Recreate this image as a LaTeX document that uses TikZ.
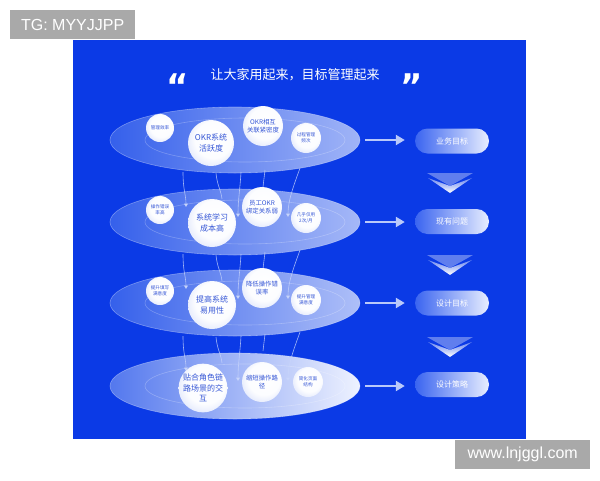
\documentclass[tikz,border=0pt]{standalone}
\usepackage{fontspec}
\setmainfont{Noto Sans CJK SC}
\newfontfamily\wmfont{Liberation Sans}
\newfontfamily\qfont{DejaVu Sans}
\usetikzlibrary{shapes.geometric,shapes.misc,arrows.meta}
\definecolor{bg}{HTML}{0B3AE6}
\definecolor{wmgray}{HTML}{A9A9A9}
\definecolor{elleft}{HTML}{3560EB}
\definecolor{elright1}{HTML}{A0B4F7}
\definecolor{elright4}{HTML}{EEF2FF}
\definecolor{circedge}{HTML}{AFC0F7}
\definecolor{ctext}{HTML}{3556D6}
\definecolor{pillleft}{HTML}{3A64F0}
\definecolor{pillright}{HTML}{E8EEFF}
\definecolor{arrowc}{HTML}{B9C9FA}
\definecolor{connc}{HTML}{C8D5FB}
\pgfdeclareradialshading{cball}{\pgfpoint{4bp}{6bp}}{color(0bp)=(white); color(20bp)=(white!96!circedge); color(50bp)=(circedge)}
\tikzset{
  rowell/.style={ellipse, minimum width=250pt, minimum height=66pt, inner sep=0pt, left color=elleft, right color=#1, draw=white, draw opacity=0.35, line width=0.6pt},
  circ/.style={circle, shading=cball, text=ctext, align=center, inner sep=0pt, minimum size=#1},
  ctxtS/.style={font=\fontsize{4.6}{5.8}\selectfont},
  ctxtM/.style={font=\fontsize{6.4}{8}\selectfont},
  ctxtL/.style={font=\fontsize{8}{10.5}\selectfont},
  pill/.style={rounded rectangle, minimum width=74pt, minimum height=25pt, inner sep=0pt, left color=pillleft, right color=pillright, text=white, font=\fontsize{8}{10}\selectfont},
  bigarrow/.style={draw=arrowc, line width=2.2pt, -{Triangle[length=9pt,width=10pt]}, shorten <=5pt, shorten >=10pt},
  conn/.style={draw=connc, draw opacity=0.8, line width=0.6pt},
  conna/.style={conn, -{Triangle[length=3.5pt,width=4pt]}},
  wm/.style={fill=wmgray, text=white, font=\wmfont\fontsize{16}{18}\selectfont, inner sep=0pt, anchor=north west},
  innerring/.style={draw=white, draw opacity=0.25, line width=0.6pt}
}
\begin{document}
\begin{tikzpicture}[x=1pt,y=-1pt]
\useasboundingbox[fill=white] (0,0) rectangle (600,480);
% panel
\fill[bg] (73,40) rectangle (526,439);
% title
\node[text=white, font=\fontsize{13}{15}\selectfont] (title) at (295,75) {让大家用起来，目标管理起来};
\node[text=white, font=\qfont\bfseries\fontsize{34}{34}\selectfont, anchor=base] (ql) at (178,98) {“};
\node[text=white, font=\qfont\bfseries\fontsize{34}{34}\selectfont, anchor=base] (qr) at (412,98) {”};
% row ellipses
\node[rowell=elright1] (e1) at (235,140) {};
\node[rowell=elright1!95!white] (e2) at (235,222) {};
\node[rowell=elright1!85!white] (e3) at (235,303) {};
\node[rowell=elright4, left color=elleft!85!white] (e4) at (235,386) {};
\foreach \r/\yy in {1/140,2/222,3/303,4/386}{
  \draw[innerring] (245,\yy) ellipse [x radius=100, y radius=22];
}
% connectors between rows
\foreach \g/\dy in {1/0,2/82,3/164}{
  \coordinate (s\g a) at (183,172+\dy);
  \coordinate (t\g a) at (186,207+\dy);
  \coordinate (s\g b) at (216,173+\dy);
  \coordinate (t\g b) at (222,199+\dy);
  \coordinate (s\g c) at (241,172+\dy);
  \coordinate (t\g c) at (238,217+\dy);
  \coordinate (s\g d) at (265,170+\dy);
  \coordinate (t\g d) at (263,187+\dy);
  \coordinate (s\g e) at (300,168+\dy);
  \coordinate (t\g e) at (288,217+\dy);
  \draw[conna] (s\g a) .. controls (183,190+\dy) and (186,195+\dy) .. (t\g a);
  \draw[conn] (s\g b) .. controls (217,185+\dy) and (221,190+\dy) .. (t\g b);
  \draw[conna] (s\g c) .. controls (240,190+\dy) and (238,200+\dy) .. (t\g c);
  \draw[conn] (s\g d) .. controls (264,178+\dy) .. (t\g d);
  \draw[conna] (s\g e) .. controls (294,185+\dy) and (288,200+\dy) .. (t\g e);
}
% row 1 circles
\node[circ=28pt, ctxtS] (c11) at (160,128) {管理效率};
\node[circ=46pt, ctxtL] (c12) at (211,143) {OKR系统\\活跃度};
\node[circ=40pt, ctxtM] (c13) at (263,126) {OKR相互\\关联紧密度};
\node[circ=30pt, ctxtS] (c14) at (306,138) {过程管理\\频次};
% row 2 circles
\node[circ=28pt, ctxtS] (c21) at (160,210) {操作错误\\率高};
\node[circ=48pt, ctxtL] (c22) at (212,223) {系统学习\\成本高};
\node[circ=40pt, ctxtM] (c23) at (262,207) {员工OKR\\绑定关系弱};
\node[circ=30pt, ctxtS] (c24) at (306,218) {几乎仅用\\2次/月};
% row 3 circles
\node[circ=28pt, ctxtS] (c31) at (160,291) {提升填写\\满意度};
\node[circ=48pt, ctxtL] (c32) at (212,305) {提高系统\\易用性};
\node[circ=40pt, ctxtM] (c33) at (262,288) {降低操作错\\误率};
\node[circ=30pt, ctxtS] (c34) at (306,300) {提升管理\\满意度};
% row 4 circles
\node[circ=47pt, ctxtL] (c41) at (203,388) {贴合角色链\\路场景的交\\互};
\node[circ=40pt, ctxtM] (c42) at (262,382) {缩短操作路\\径};
\node[circ=30pt, ctxtS] (c43) at (308,382) {简化页面\\结构};
% pills
\node[pill] (p1) at (452,141) {业务目标};
\node[pill] (p2) at (452,221.5) {现有问题};
\node[pill] (p3) at (452,303) {设计目标};
\node[pill] (p4) at (452,384.5) {设计策略};
% arrows
\foreach \i in {1,2,3,4}{
  \draw[bigarrow] (e\i.east) -- (p\i.west |- e\i.east);
}
% chevrons
\foreach \yy in {173,255,337}{
  \fill[white, fill opacity=0.35] (427,\yy) -- (473,\yy) -- (450,\yy+13) -- cycle;
  \shade[top color=bg!60!white, bottom color=white] (428,\yy+5) -- (450,\yy+13) -- (472,\yy+5) -- (450,\yy+20) -- cycle;
}
% watermarks
\node[wm, minimum width=125pt, minimum height=29pt] (wm1) at (10,10) {TG: MYYJJPP};
\node[wm, minimum width=135pt, minimum height=29pt] (wm2) at (455,440) {www.lnjggl.com};
\end{tikzpicture}
\end{document}
